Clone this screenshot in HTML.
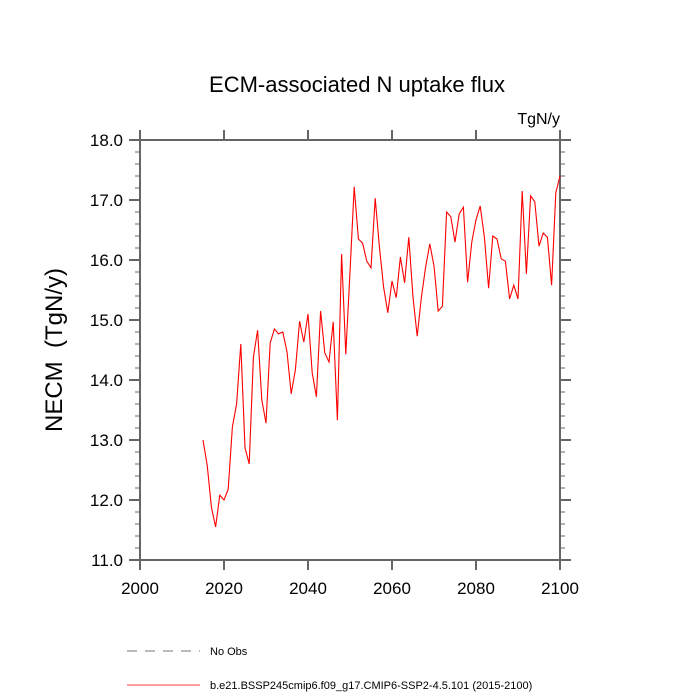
<!DOCTYPE html>
<html><head><meta charset="utf-8"><style>body{margin:0;background:#fff}svg{display:block}text{font-family:"Liberation Sans",sans-serif}</style></head>
<body>
<svg id="chart" width="700" height="700" xmlns="http://www.w3.org/2000/svg">
<text x="357" y="92" font-size="22" text-anchor="middle">ECM-associated N uptake flux</text>
<text x="560" y="124" font-size="16" text-anchor="end">TgN/y</text>
<text transform="translate(62,350) rotate(-90)" font-size="24" text-anchor="middle">NECM&#160;&#160;(TgN/y)</text>
<g id="axes"></g>
<g id="series"></g>
<g>
<line x1="127" y1="651" x2="200" y2="651" stroke="#777" stroke-dasharray="10,8"/>
<text x="210" y="655" font-size="11">No Obs</text>
<line x1="127" y1="685" x2="200" y2="685" stroke="red" stroke-width="0.8"/>
<text x="210" y="689" font-size="11">b.e21.BSSP245cmip6.f09_g17.CMIP6-SSP2-4.5.101 (2015-2100)</text>
</g>
</svg>
<script>
const startYear = 2015;
const values = [13.0,12.58,11.88,11.55,12.08,12.0,12.18,13.22,13.6,14.6,12.87,12.6,14.38,14.83,13.67,13.28,14.62,14.85,14.77,14.8,14.47,13.77,14.17,14.98,14.63,15.1,14.12,13.72,15.15,14.45,14.3,14.97,13.33,16.1,14.43,15.8,17.22,16.35,16.28,15.98,15.87,17.03,16.22,15.55,15.12,15.65,15.37,16.05,15.62,16.38,15.38,14.73,15.38,15.88,16.27,15.9,15.15,15.23,16.8,16.72,16.3,16.77,16.88,15.63,16.3,16.67,16.9,16.38,15.53,16.4,16.35,16.02,15.98,15.35,15.58,15.35,17.15,15.77,17.07,16.97,16.23,16.45,16.38,15.58,17.12,17.4];
const xTicks = [2000,2020,2040,2060,2080,2100];
const yTicks = [11,12,13,14,15,16,17,18];
const X0=140,X1=560,Y0=560,Y1=140;
const xs=v=>X0+(v-2000)/(2100-2000)*(X1-X0);
const ys=v=>Y0-(v-11)/(18-11)*(Y0-Y1);
const NS='http://www.w3.org/2000/svg';
const ax=document.getElementById('axes');
function mk(t,a,p){const e=document.createElementNS(NS,t);for(const k in a)e.setAttribute(k,a[k]);p.appendChild(e);return e;}
const frame=mk('rect',{x:X0,y:Y1,width:X1-X0,height:Y0-Y1,fill:'none',stroke:'#666','stroke-width':2},ax);


for(let v=11;v<=18.001;v+=0.2){
  const major=Math.abs(v-Math.round(v))<0.01;
  const L=major?11:5;const y=ys(v);
  const t1=mk('line',{x1:X0-L,y1:y,x2:X0,y2:y,stroke:'#666','stroke-width':major?2:1},ax);
  
  
  const t2=mk('line',{x1:X1,y1:y,x2:X1+L,y2:y,stroke:'#666','stroke-width':major?2:1},ax);
  
  
}
yTicks.forEach(v=>{
  const t=mk('text',{x:X0-17,y:ys(v)+6,'font-size':17,'text-anchor':'end'},ax);t.textContent=v.toFixed(1);
  
  
});
xTicks.forEach(v=>{
  const x=xs(v);
  const a=mk('line',{x1:x,y1:Y0,x2:x,y2:Y0+10,stroke:'#666','stroke-width':2},ax);
  
  
  const b=mk('line',{x1:x,y1:Y1-10,x2:x,y2:Y1,stroke:'#666','stroke-width':2},ax);
  
  
  const t=mk('text',{x:x,y:Y0+34,'font-size':17,'text-anchor':'middle'},ax);t.textContent=v;
  
  
});
const pts=values.map((v,i)=>xs(startYear+i).toFixed(2)+','+ys(v).toFixed(2)).join(' ');
const pl=mk('polyline',{points:pts,fill:'none',stroke:'red','stroke-width':1.1},document.getElementById('series'));


</script>
</body></html>
